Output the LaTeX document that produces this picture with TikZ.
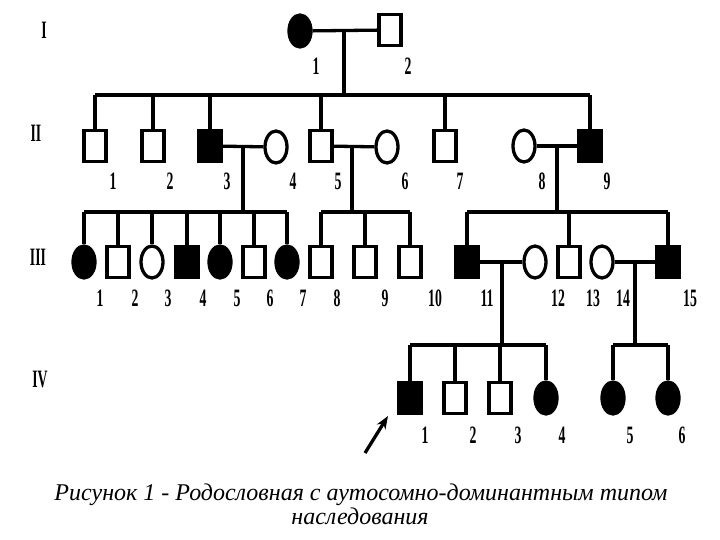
\documentclass[tikz,border=0pt]{standalone}
\usepackage{fontspec}
\setmainfont{Liberation Serif}
\usetikzlibrary{arrows.meta,shapes.geometric}
\newcommand\cnd[1]{\scalebox{0.55}[1]{#1}}
\tikzset{
  ln/.style={line width=3.3pt},
  male/.style={draw, ln, rectangle, minimum width=22pt, minimum height=31pt, inner sep=0pt, fill=white},
  female/.style={draw, ln, ellipse, minimum width=22pt, minimum height=32pt, inner sep=0pt, fill=white},
  affm/.style={male, fill=black},
  afff/.style={female, fill=black},
  num/.style={font=\bfseries\fontsize{25}{25}\selectfont, inner sep=0pt},
  gen/.style={font=\bfseries\fontsize{25}{25}\selectfont, inner sep=0pt},
}
\begin{document}
\begin{tikzpicture}[x=1pt,y=-1pt]
\useasboundingbox (0,0) rectangle (720,540);
% generation labels
\node[gen] (gI) at (44,30) {\cnd{I}};
\node[gen] (gII) at (36,133) {\cnd{II}};
\node[gen] (gIII) at (38,257) {\cnd{III}};
\node[gen] (gIV) at (40,380) {\cnd{IV}};
% Generation I
\node[afff] (I1) at (300,31) {};
\node[male] (I2) at (390,30) {};
\coordinate (mI) at (344,31);
\coordinate (sII) at (0,95);
\draw[ln] (I1) -- (I2);
\draw[ln] (mI) -- (mI |- sII);
\node[num] (lI1) at (316,66) {\cnd{1}};
\node[num] (lI2) at (408,66) {\cnd{2}};
% Generation II
\node[male] (II1) at (95,146) {};
\node[male] (II2) at (153,146) {};
\node[affm] (II3) at (210,146) {};
\node[female] (II4) at (276,147) {};
\node[male] (II5) at (321,146) {};
\node[female] (II6) at (387,147) {};
\node[male] (II7) at (445,146) {};
\node[female] (II8) at (524,146) {};
\node[affm] (II9) at (590,146) {};
\draw[ln] (II1.north |- sII) -- (II9.north |- sII);
\foreach \n in {II1,II2,II3,II5,II7,II9} \draw[ln] (\n.north) -- (\n.north |- sII);
\coordinate (sIII) at (0,212);
\draw[ln] (II3) -- (II4);
\draw[ln] (II5) -- (II6);
\draw[ln] (II8) -- (II9);
\coordinate (m34) at (243,146);
\coordinate (m56) at (352,146);
\coordinate (m89) at (557,146);
\draw[ln] (m34) -- (m34 |- sIII);
\draw[ln] (m56) -- (m56 |- sIII);
\draw[ln] (m89) -- (m89 |- sIII);
\foreach \x/\t in {113/1,170/2,227/3,293/4,338/5,405/6,460/7,542/8,607/9}
  \node[num] (lII\t) at (\x,181) {\cnd{\t}};
% Generation III
\node[afff] (III1) at (84,262) {};
\node[male] (III2) at (118,262) {};
\node[female] (III3) at (152,262) {};
\node[affm] (III4) at (187,262) {};
\node[afff] (III5) at (220,262) {};
\node[male] (III6) at (254,262) {};
\node[afff] (III7) at (287,262) {};
\node[male] (III8) at (321,262) {};
\node[male] (III9) at (365,262) {};
\node[male] (III10) at (410,262) {};
\node[affm] (III11) at (467,262) {};
\node[female] (III12) at (535,262) {};
\node[male] (III13) at (569,262) {};
\node[female] (III14) at (602,262) {};
\node[affm] (III15) at (668,262) {};
\draw[ln] (III1.north |- sIII) -- (III7.north |- sIII);
\draw[ln] (III8.north |- sIII) -- (III10.north |- sIII);
\draw[ln] (III11.north |- sIII) -- (III15.north |- sIII);
\foreach \n in {III1,III2,III3,III4,III5,III6,III7,III8,III9,III10,III11,III13,III15}
  \draw[ln] (\n.north) -- (\n.north |- sIII);
\coordinate (sIV) at (0,345);
\draw[ln] (III11) -- (III12);
\draw[ln] (III14) -- (III15);
\coordinate (m1112) at (502,262);
\coordinate (m1415) at (635,262);
\draw[ln] (m1112) -- (m1112 |- sIV);
\draw[ln] (m1415) -- (m1415 |- sIV);
\foreach \x/\t in {100/1,135/2,168/3,203/4,237/5,270/6,303/7,337/8,385/9,435/10,487/11,558/12,593/13,623/14,690/15}
  \node[num] (lIII\t) at (\x,298) {\cnd{\t}};
% Generation IV
\node[affm] (IV1) at (410,398) {};
\node[male] (IV2) at (455,398) {};
\node[male] (IV3) at (500,398) {};
\node[afff] (IV4) at (546,398) {};
\node[afff] (IV5) at (613,398) {};
\node[afff] (IV6) at (668,398) {};
\draw[ln] (IV1.north |- sIV) -- (IV4.north |- sIV);
\draw[ln] (IV5.north |- sIV) -- (IV6.north |- sIV);
\foreach \n in {IV1,IV2,IV3,IV4,IV5,IV6}
  \draw[ln] (\n.north) -- (\n.north |- sIV);
\foreach \x/\t in {425/1,473/2,518/3,562/4,630/5,682/6}
  \node[num] (lIV\t) at (\x,435) {\cnd{\t}};
% proband arrow
\coordinate (pa) at (365,453);
\coordinate (pb) at (388,416);
\draw[ln, -{Stealth[length=13pt,width=10pt]}] (pa) -- (pb);
% caption
\node[font=\itshape\fontsize{24}{24}\selectfont, inner sep=0pt, anchor=base] (cap1) at (361,500) {Рисунок 1 - Родословная с аутосомно-доминантным типом};
\node[font=\itshape\fontsize{24}{24}\selectfont, inner sep=0pt, anchor=base] (cap2) at (360,524) {наследования};
\end{tikzpicture}
\end{document}
